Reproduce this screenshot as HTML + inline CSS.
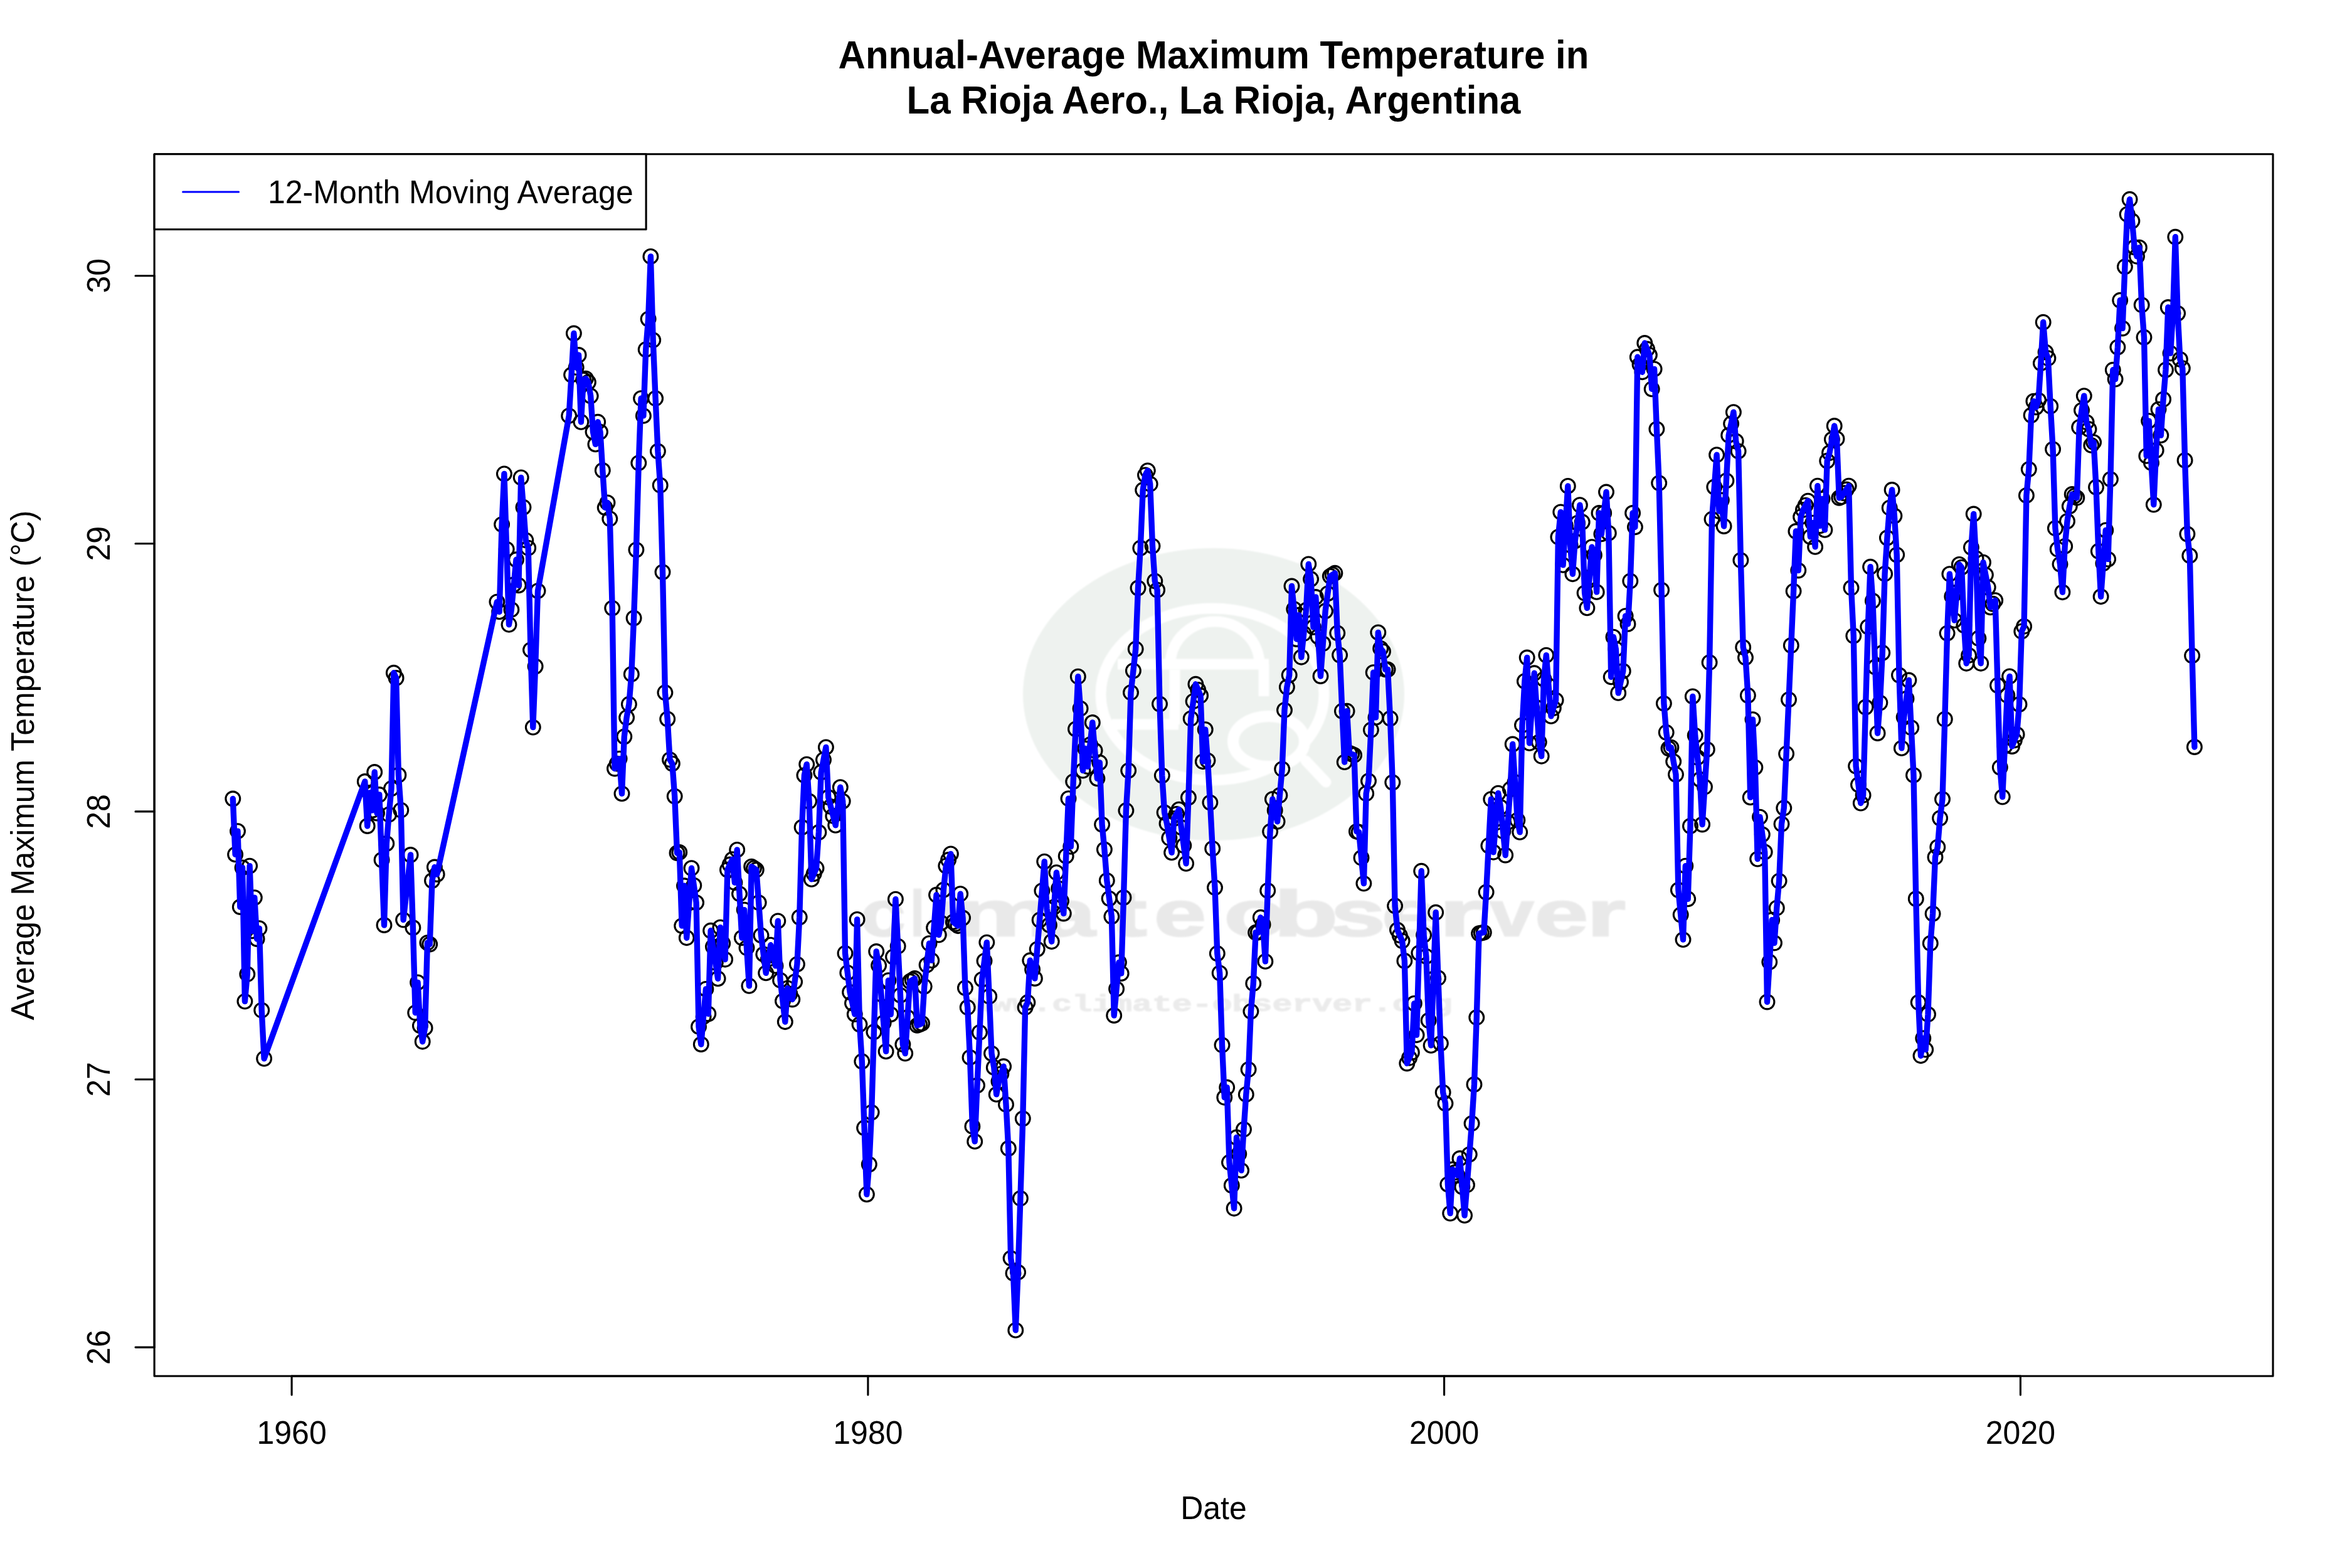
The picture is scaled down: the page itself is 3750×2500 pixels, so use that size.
<!DOCTYPE html>
<html><head><meta charset="utf-8">
<style>
html,body{margin:0;padding:0;background:#fff;overflow:hidden;width:3750px;height:2500px;}
svg{display:block;}
text{font-family:"Liberation Sans",sans-serif;}
</style></head>
<body>
<svg width="3750" height="2500" viewBox="0 0 3750 2500">
<rect x="0" y="0" width="3750" height="2500" fill="#ffffff"/>
<!-- watermark -->
<defs><filter id="soft" x="-5%" y="-5%" width="110%" height="110%"><feGaussianBlur stdDeviation="1.2"/></filter></defs>
<g id="wm" filter="url(#soft)">
<ellipse cx="1935" cy="1107" rx="304" ry="233" fill="#eef2ef"/>
<g fill="none" stroke="#ffffff" stroke-width="17">
<ellipse cx="1933" cy="1107" rx="178" ry="137"/>
<path d="M1866,1059 A71,68 0 0 1 2008,1059"/>
<line x1="1782" y1="1059" x2="2023" y2="1059"/>
<line x1="2015" y1="1059" x2="2015" y2="1110"/>
<line x1="1873" y1="1068" x2="1873" y2="1155"/>
<line x1="1773" y1="1155" x2="1879" y2="1155"/>
</g>
<ellipse cx="2023" cy="1182" rx="57" ry="40" fill="#eef2ef" stroke="#ffffff" stroke-width="18"/>
<line x1="2082" y1="1213" x2="2114" y2="1247" stroke="#ffffff" stroke-width="17" stroke-linecap="round"/>
<g font-weight="bold" font-size="127" fill="#e9e9e9" stroke="#e9e9e9" stroke-width="3" text-anchor="middle" style="font-family:'Liberation Mono',monospace"><text transform="translate(1407.5,1492.4) scale(1.016,0.8)">c</text><text transform="translate(1462.6,1492.4) scale(0.607,0.8)">l</text><text transform="translate(1510.7,1492.4) scale(0.603,0.8)">i</text><text transform="translate(1602.7,1492.4) scale(1.433,0.8)">m</text><text transform="translate(1704.7,1492.4) scale(1.185,0.8)">a</text><text transform="translate(1799.1,1492.4) scale(1.396,0.8)">t</text><text transform="translate(1881.6,1492.4) scale(1.175,0.8)">e</text><text transform="translate(2001.1,1492.4) scale(1.286,0.8)">o</text><text transform="translate(2082.2,1492.4) scale(1.317,0.8)">b</text><text transform="translate(2165.1,1492.4) scale(1.237,0.8)">s</text><text transform="translate(2249.7,1492.4) scale(1.333,0.8)">e</text><text transform="translate(2329.8,1492.4) scale(1.434,0.8)">r</text><text transform="translate(2410.5,1492.4) scale(0.986,0.8)">v</text><text transform="translate(2489.6,1492.4) scale(1.206,0.8)">e</text><text transform="translate(2561.1,1492.4) scale(1.245,0.8)">r</text></g>
<text transform="translate(1932.7,1611.8) scale(1,0.7)" font-weight="bold" font-size="53.2" fill="#ebebeb" stroke="#ebebeb" stroke-width="1.5" text-anchor="middle" textLength="766" lengthAdjust="spacingAndGlyphs" style="font-family:'Liberation Mono',monospace">www.climate-observer.org</text>
</g>
<!-- data -->
<g fill="none" stroke="#000" stroke-width="3.125"><circle cx="371.3" cy="1273.5" r="11.4"/><circle cx="375.1" cy="1362.4" r="11.4"/><circle cx="379.0" cy="1325.1" r="11.4"/><circle cx="382.8" cy="1446.0" r="11.4"/><circle cx="386.6" cy="1383.4" r="11.4"/><circle cx="390.4" cy="1596.6" r="11.4"/><circle cx="394.3" cy="1553.2" r="11.4"/><circle cx="398.1" cy="1380.6" r="11.4"/><circle cx="401.9" cy="1484.4" r="11.4"/><circle cx="405.8" cy="1431.1" r="11.4"/><circle cx="409.6" cy="1497.0" r="11.4"/><circle cx="413.4" cy="1480.2" r="11.4"/><circle cx="417.2" cy="1610.7" r="11.4"/><circle cx="421.1" cy="1687.8" r="11.4"/><circle cx="581.8" cy="1246.0" r="11.4"/><circle cx="585.7" cy="1317.0" r="11.4"/><circle cx="589.5" cy="1264.0" r="11.4"/><circle cx="593.3" cy="1292.0" r="11.4"/><circle cx="597.2" cy="1231.0" r="11.4"/><circle cx="601.0" cy="1296.5" r="11.4"/><circle cx="604.8" cy="1267.0" r="11.4"/><circle cx="608.6" cy="1371.0" r="11.4"/><circle cx="612.5" cy="1475.0" r="11.4"/><circle cx="616.3" cy="1345.0" r="11.4"/><circle cx="620.1" cy="1298.7" r="11.4"/><circle cx="624.0" cy="1257.3" r="11.4"/><circle cx="627.8" cy="1072.8" r="11.4"/><circle cx="631.6" cy="1081.0" r="11.4"/><circle cx="635.4" cy="1235.7" r="11.4"/><circle cx="639.3" cy="1291.7" r="11.4"/><circle cx="643.1" cy="1466.6" r="11.4"/><circle cx="654.6" cy="1363.0" r="11.4"/><circle cx="658.4" cy="1479.0" r="11.4"/><circle cx="662.2" cy="1614.7" r="11.4"/><circle cx="666.1" cy="1566.4" r="11.4"/><circle cx="669.9" cy="1635.4" r="11.4"/><circle cx="673.7" cy="1660.7" r="11.4"/><circle cx="677.6" cy="1638.9" r="11.4"/><circle cx="681.4" cy="1503.2" r="11.4"/><circle cx="685.2" cy="1505.5" r="11.4"/><circle cx="689.0" cy="1404.0" r="11.4"/><circle cx="692.9" cy="1382.5" r="11.4"/><circle cx="696.7" cy="1394.0" r="11.4"/><circle cx="792.4" cy="959.6" r="11.4"/><circle cx="796.2" cy="975.4" r="11.4"/><circle cx="800.1" cy="836.1" r="11.4"/><circle cx="803.9" cy="755.4" r="11.4"/><circle cx="807.7" cy="875.6" r="11.4"/><circle cx="811.5" cy="995.8" r="11.4"/><circle cx="815.4" cy="971.9" r="11.4"/><circle cx="819.2" cy="932.1" r="11.4"/><circle cx="823.0" cy="892.3" r="11.4"/><circle cx="826.9" cy="933.3" r="11.4"/><circle cx="830.7" cy="761.4" r="11.4"/><circle cx="834.5" cy="808.8" r="11.4"/><circle cx="838.3" cy="861.4" r="11.4"/><circle cx="842.2" cy="873.7" r="11.4"/><circle cx="846.0" cy="1036.1" r="11.4"/><circle cx="849.8" cy="1159.6" r="11.4"/><circle cx="853.6" cy="1062.5" r="11.4"/><circle cx="857.5" cy="942.1" r="11.4"/><circle cx="907.2" cy="662.9" r="11.4"/><circle cx="911.1" cy="597.6" r="11.4"/><circle cx="914.9" cy="531.5" r="11.4"/><circle cx="918.7" cy="585.8" r="11.4"/><circle cx="922.6" cy="566.0" r="11.4"/><circle cx="926.4" cy="672.8" r="11.4"/><circle cx="930.2" cy="605.5" r="11.4"/><circle cx="934.0" cy="603.6" r="11.4"/><circle cx="937.9" cy="609.5" r="11.4"/><circle cx="941.7" cy="631.3" r="11.4"/><circle cx="945.5" cy="688.6" r="11.4"/><circle cx="949.4" cy="708.4" r="11.4"/><circle cx="953.2" cy="672.8" r="11.4"/><circle cx="957.0" cy="688.6" r="11.4"/><circle cx="960.8" cy="750.0" r="11.4"/><circle cx="964.7" cy="809.3" r="11.4"/><circle cx="968.5" cy="801.4" r="11.4"/><circle cx="972.3" cy="827.1" r="11.4"/><circle cx="976.2" cy="969.6" r="11.4"/><circle cx="980.0" cy="1225.5" r="11.4"/><circle cx="983.8" cy="1217.6" r="11.4"/><circle cx="987.6" cy="1209.6" r="11.4"/><circle cx="991.5" cy="1265.4" r="11.4"/><circle cx="995.3" cy="1174.5" r="11.4"/><circle cx="999.1" cy="1144.1" r="11.4"/><circle cx="1002.9" cy="1122.8" r="11.4"/><circle cx="1006.8" cy="1074.9" r="11.4"/><circle cx="1010.6" cy="985.5" r="11.4"/><circle cx="1014.4" cy="876.6" r="11.4"/><circle cx="1018.3" cy="738.1" r="11.4"/><circle cx="1022.1" cy="635.2" r="11.4"/><circle cx="1025.9" cy="662.9" r="11.4"/><circle cx="1029.7" cy="557.3" r="11.4"/><circle cx="1033.6" cy="508.6" r="11.4"/><circle cx="1037.4" cy="408.9" r="11.4"/><circle cx="1041.2" cy="542.2" r="11.4"/><circle cx="1045.1" cy="635.2" r="11.4"/><circle cx="1048.9" cy="719.5" r="11.4"/><circle cx="1052.7" cy="773.7" r="11.4"/><circle cx="1056.5" cy="912.1" r="11.4"/><circle cx="1060.4" cy="1104.3" r="11.4"/><circle cx="1064.2" cy="1146.4" r="11.4"/><circle cx="1068.0" cy="1211.2" r="11.4"/><circle cx="1071.9" cy="1217.6" r="11.4"/><circle cx="1075.7" cy="1269.6" r="11.4"/><circle cx="1079.5" cy="1360.0" r="11.4"/><circle cx="1083.3" cy="1358.9" r="11.4"/><circle cx="1087.2" cy="1476.1" r="11.4"/><circle cx="1091.0" cy="1412.3" r="11.4"/><circle cx="1094.8" cy="1495.2" r="11.4"/><circle cx="1098.7" cy="1439.7" r="11.4"/><circle cx="1102.5" cy="1384.2" r="11.4"/><circle cx="1106.3" cy="1411.7" r="11.4"/><circle cx="1110.1" cy="1439.1" r="11.4"/><circle cx="1114.0" cy="1636.9" r="11.4"/><circle cx="1117.8" cy="1665.0" r="11.4"/><circle cx="1121.6" cy="1620.9" r="11.4"/><circle cx="1125.4" cy="1576.9" r="11.4"/><circle cx="1129.3" cy="1616.5" r="11.4"/><circle cx="1133.1" cy="1483.8" r="11.4"/><circle cx="1136.9" cy="1509.3" r="11.4"/><circle cx="1140.8" cy="1534.8" r="11.4"/><circle cx="1144.6" cy="1560.3" r="11.4"/><circle cx="1148.4" cy="1478.7" r="11.4"/><circle cx="1152.2" cy="1504.2" r="11.4"/><circle cx="1156.1" cy="1529.7" r="11.4"/><circle cx="1159.9" cy="1386.8" r="11.4"/><circle cx="1163.7" cy="1378.5" r="11.4"/><circle cx="1167.6" cy="1370.2" r="11.4"/><circle cx="1171.4" cy="1407.2" r="11.4"/><circle cx="1175.2" cy="1354.9" r="11.4"/><circle cx="1179.0" cy="1425.1" r="11.4"/><circle cx="1182.9" cy="1495.2" r="11.4"/><circle cx="1186.7" cy="1450.6" r="11.4"/><circle cx="1190.5" cy="1511.2" r="11.4"/><circle cx="1194.4" cy="1571.8" r="11.4"/><circle cx="1198.2" cy="1381.7" r="11.4"/><circle cx="1202.0" cy="1384.2" r="11.4"/><circle cx="1205.8" cy="1386.8" r="11.4"/><circle cx="1209.7" cy="1439.1" r="11.4"/><circle cx="1213.5" cy="1491.4" r="11.4"/><circle cx="1217.3" cy="1521.4" r="11.4"/><circle cx="1221.2" cy="1551.4" r="11.4"/><circle cx="1225.0" cy="1529.1" r="11.4"/><circle cx="1228.8" cy="1506.7" r="11.4"/><circle cx="1232.6" cy="1523.3" r="11.4"/><circle cx="1236.5" cy="1539.9" r="11.4"/><circle cx="1240.3" cy="1468.4" r="11.4"/><circle cx="1244.1" cy="1562.9" r="11.4"/><circle cx="1248.0" cy="1596.1" r="11.4"/><circle cx="1251.8" cy="1629.2" r="11.4"/><circle cx="1255.6" cy="1575.6" r="11.4"/><circle cx="1259.4" cy="1584.6" r="11.4"/><circle cx="1263.3" cy="1593.5" r="11.4"/><circle cx="1267.1" cy="1565.4" r="11.4"/><circle cx="1270.9" cy="1537.4" r="11.4"/><circle cx="1274.7" cy="1462.5" r="11.4"/><circle cx="1278.6" cy="1319.0" r="11.4"/><circle cx="1282.4" cy="1236.1" r="11.4"/><circle cx="1286.2" cy="1218.6" r="11.4"/><circle cx="1290.1" cy="1277.5" r="11.4"/><circle cx="1293.9" cy="1401.9" r="11.4"/><circle cx="1297.7" cy="1393.1" r="11.4"/><circle cx="1301.5" cy="1384.3" r="11.4"/><circle cx="1305.4" cy="1327.0" r="11.4"/><circle cx="1309.2" cy="1231.3" r="11.4"/><circle cx="1313.0" cy="1211.4" r="11.4"/><circle cx="1316.9" cy="1191.4" r="11.4"/><circle cx="1320.7" cy="1271.2" r="11.4"/><circle cx="1324.5" cy="1286.0" r="11.4"/><circle cx="1328.3" cy="1300.9" r="11.4"/><circle cx="1332.2" cy="1315.8" r="11.4"/><circle cx="1336.0" cy="1285.5" r="11.4"/><circle cx="1339.8" cy="1255.2" r="11.4"/><circle cx="1343.7" cy="1277.5" r="11.4"/><circle cx="1347.5" cy="1519.9" r="11.4"/><circle cx="1351.3" cy="1550.9" r="11.4"/><circle cx="1355.1" cy="1582.0" r="11.4"/><circle cx="1359.0" cy="1599.6" r="11.4"/><circle cx="1362.8" cy="1617.1" r="11.4"/><circle cx="1366.6" cy="1465.9" r="11.4"/><circle cx="1370.5" cy="1633.3" r="11.4"/><circle cx="1374.3" cy="1692.3" r="11.4"/><circle cx="1378.1" cy="1798.3" r="11.4"/><circle cx="1381.9" cy="1904.3" r="11.4"/><circle cx="1385.8" cy="1856.5" r="11.4"/><circle cx="1389.6" cy="1773.6" r="11.4"/><circle cx="1393.4" cy="1645.3" r="11.4"/><circle cx="1397.2" cy="1517.0" r="11.4"/><circle cx="1401.1" cy="1539.3" r="11.4"/><circle cx="1404.9" cy="1585.0" r="11.4"/><circle cx="1408.7" cy="1630.7" r="11.4"/><circle cx="1412.6" cy="1676.4" r="11.4"/><circle cx="1416.4" cy="1563.2" r="11.4"/><circle cx="1420.2" cy="1617.4" r="11.4"/><circle cx="1424.0" cy="1525.6" r="11.4"/><circle cx="1427.9" cy="1433.7" r="11.4"/><circle cx="1431.7" cy="1508.7" r="11.4"/><circle cx="1435.5" cy="1586.9" r="11.4"/><circle cx="1439.4" cy="1665.2" r="11.4"/><circle cx="1443.2" cy="1679.6" r="11.4"/><circle cx="1447.0" cy="1622.2" r="11.4"/><circle cx="1450.8" cy="1564.8" r="11.4"/><circle cx="1454.7" cy="1562.4" r="11.4"/><circle cx="1458.5" cy="1560.0" r="11.4"/><circle cx="1462.3" cy="1634.9" r="11.4"/><circle cx="1466.2" cy="1633.3" r="11.4"/><circle cx="1470.0" cy="1631.7" r="11.4"/><circle cx="1473.8" cy="1572.8" r="11.4"/><circle cx="1477.6" cy="1538.5" r="11.4"/><circle cx="1481.5" cy="1504.2" r="11.4"/><circle cx="1485.3" cy="1531.3" r="11.4"/><circle cx="1489.1" cy="1479.1" r="11.4"/><circle cx="1493.0" cy="1426.8" r="11.4"/><circle cx="1496.8" cy="1490.6" r="11.4"/><circle cx="1500.6" cy="1471.4" r="11.4"/><circle cx="1504.4" cy="1418.8" r="11.4"/><circle cx="1508.3" cy="1380.6" r="11.4"/><circle cx="1512.1" cy="1371.0" r="11.4"/><circle cx="1515.9" cy="1361.4" r="11.4"/><circle cx="1519.8" cy="1469.9" r="11.4"/><circle cx="1523.6" cy="1473.0" r="11.4"/><circle cx="1527.4" cy="1476.2" r="11.4"/><circle cx="1531.2" cy="1425.2" r="11.4"/><circle cx="1535.1" cy="1463.5" r="11.4"/><circle cx="1538.9" cy="1575.1" r="11.4"/><circle cx="1542.7" cy="1606.2" r="11.4"/><circle cx="1546.5" cy="1685.9" r="11.4"/><circle cx="1550.4" cy="1795.9" r="11.4"/><circle cx="1554.2" cy="1819.9" r="11.4"/><circle cx="1558.0" cy="1730.6" r="11.4"/><circle cx="1561.9" cy="1646.1" r="11.4"/><circle cx="1565.7" cy="1561.6" r="11.4"/><circle cx="1569.5" cy="1532.1" r="11.4"/><circle cx="1573.3" cy="1502.6" r="11.4"/><circle cx="1577.2" cy="1588.7" r="11.4"/><circle cx="1581.0" cy="1679.6" r="11.4"/><circle cx="1584.8" cy="1701.9" r="11.4"/><circle cx="1588.7" cy="1744.9" r="11.4"/><circle cx="1592.5" cy="1724.2" r="11.4"/><circle cx="1596.3" cy="1712.2" r="11.4"/><circle cx="1600.1" cy="1700.3" r="11.4"/><circle cx="1604.0" cy="1760.9" r="11.4"/><circle cx="1607.8" cy="1831.0" r="11.4"/><circle cx="1611.6" cy="2006.1" r="11.4"/><circle cx="1615.5" cy="2030.0" r="11.4"/><circle cx="1619.3" cy="2120.9" r="11.4"/><circle cx="1623.1" cy="2028.4" r="11.4"/><circle cx="1626.9" cy="1910.7" r="11.4"/><circle cx="1630.8" cy="1783.5" r="11.4"/><circle cx="1634.6" cy="1606.2" r="11.4"/><circle cx="1638.4" cy="1598.3" r="11.4"/><circle cx="1642.3" cy="1531.3" r="11.4"/><circle cx="1646.1" cy="1545.7" r="11.4"/><circle cx="1649.9" cy="1560.0" r="11.4"/><circle cx="1653.7" cy="1513.4" r="11.4"/><circle cx="1657.6" cy="1466.8" r="11.4"/><circle cx="1661.4" cy="1420.2" r="11.4"/><circle cx="1665.2" cy="1373.6" r="11.4"/><circle cx="1669.0" cy="1448.6" r="11.4"/><circle cx="1672.9" cy="1474.9" r="11.4"/><circle cx="1676.7" cy="1501.2" r="11.4"/><circle cx="1680.5" cy="1446.2" r="11.4"/><circle cx="1684.4" cy="1391.2" r="11.4"/><circle cx="1688.2" cy="1416.7" r="11.4"/><circle cx="1692.0" cy="1436.6" r="11.4"/><circle cx="1695.8" cy="1456.5" r="11.4"/><circle cx="1699.7" cy="1364.9" r="11.4"/><circle cx="1703.5" cy="1273.2" r="11.4"/><circle cx="1707.3" cy="1349.7" r="11.4"/><circle cx="1711.2" cy="1246.1" r="11.4"/><circle cx="1715.0" cy="1162.4" r="11.4"/><circle cx="1718.8" cy="1078.7" r="11.4"/><circle cx="1722.6" cy="1129.7" r="11.4"/><circle cx="1726.5" cy="1228.6" r="11.4"/><circle cx="1730.3" cy="1193.5" r="11.4"/><circle cx="1734.1" cy="1222.2" r="11.4"/><circle cx="1738.0" cy="1187.1" r="11.4"/><circle cx="1741.8" cy="1152.0" r="11.4"/><circle cx="1745.6" cy="1196.7" r="11.4"/><circle cx="1749.4" cy="1241.3" r="11.4"/><circle cx="1753.3" cy="1215.8" r="11.4"/><circle cx="1757.1" cy="1314.6" r="11.4"/><circle cx="1760.9" cy="1354.5" r="11.4"/><circle cx="1764.8" cy="1403.9" r="11.4"/><circle cx="1768.6" cy="1432.6" r="11.4"/><circle cx="1772.4" cy="1461.3" r="11.4"/><circle cx="1776.2" cy="1619.0" r="11.4"/><circle cx="1780.1" cy="1576.7" r="11.4"/><circle cx="1783.9" cy="1534.5" r="11.4"/><circle cx="1787.7" cy="1552.0" r="11.4"/><circle cx="1791.5" cy="1431.0" r="11.4"/><circle cx="1795.4" cy="1292.3" r="11.4"/><circle cx="1799.2" cy="1228.6" r="11.4"/><circle cx="1803.0" cy="1104.2" r="11.4"/><circle cx="1806.9" cy="1069.5" r="11.4"/><circle cx="1810.7" cy="1034.8" r="11.4"/><circle cx="1814.5" cy="937.5" r="11.4"/><circle cx="1818.3" cy="873.8" r="11.4"/><circle cx="1822.2" cy="781.3" r="11.4"/><circle cx="1826.0" cy="757.4" r="11.4"/><circle cx="1829.8" cy="750.4" r="11.4"/><circle cx="1833.7" cy="771.7" r="11.4"/><circle cx="1837.5" cy="870.6" r="11.4"/><circle cx="1841.3" cy="926.4" r="11.4"/><circle cx="1845.1" cy="940.7" r="11.4"/><circle cx="1849.0" cy="1122.5" r="11.4"/><circle cx="1852.8" cy="1236.5" r="11.4"/><circle cx="1856.6" cy="1295.5" r="11.4"/><circle cx="1860.5" cy="1313.0" r="11.4"/><circle cx="1864.3" cy="1336.2" r="11.4"/><circle cx="1868.1" cy="1359.3" r="11.4"/><circle cx="1871.9" cy="1305.1" r="11.4"/><circle cx="1875.8" cy="1297.9" r="11.4"/><circle cx="1879.6" cy="1290.7" r="11.4"/><circle cx="1883.4" cy="1319.4" r="11.4"/><circle cx="1887.3" cy="1348.1" r="11.4"/><circle cx="1891.1" cy="1376.8" r="11.4"/><circle cx="1894.9" cy="1271.6" r="11.4"/><circle cx="1898.7" cy="1145.7" r="11.4"/><circle cx="1902.6" cy="1118.2" r="11.4"/><circle cx="1906.4" cy="1090.8" r="11.4"/><circle cx="1910.2" cy="1099.9" r="11.4"/><circle cx="1914.1" cy="1109.0" r="11.4"/><circle cx="1917.9" cy="1214.2" r="11.4"/><circle cx="1921.7" cy="1163.2" r="11.4"/><circle cx="1925.5" cy="1212.6" r="11.4"/><circle cx="1929.4" cy="1279.6" r="11.4"/><circle cx="1933.2" cy="1352.9" r="11.4"/><circle cx="1937.0" cy="1415.1" r="11.4"/><circle cx="1940.8" cy="1520.3" r="11.4"/><circle cx="1944.7" cy="1551.4" r="11.4"/><circle cx="1948.5" cy="1666.2" r="11.4"/><circle cx="1952.3" cy="1749.7" r="11.4"/><circle cx="1956.2" cy="1733.8" r="11.4"/><circle cx="1960.0" cy="1853.3" r="11.4"/><circle cx="1963.8" cy="1890.0" r="11.4"/><circle cx="1967.6" cy="1926.7" r="11.4"/><circle cx="1971.5" cy="1813.5" r="11.4"/><circle cx="1975.3" cy="1839.8" r="11.4"/><circle cx="1979.1" cy="1866.1" r="11.4"/><circle cx="1983.0" cy="1800.7" r="11.4"/><circle cx="1986.8" cy="1744.9" r="11.4"/><circle cx="1990.6" cy="1705.1" r="11.4"/><circle cx="1994.4" cy="1612.6" r="11.4"/><circle cx="1998.3" cy="1568.0" r="11.4"/><circle cx="2002.1" cy="1486.8" r="11.4"/><circle cx="2005.9" cy="1486.7" r="11.4"/><circle cx="2009.8" cy="1462.8" r="11.4"/><circle cx="2013.6" cy="1473.9" r="11.4"/><circle cx="2017.4" cy="1532.9" r="11.4"/><circle cx="2021.2" cy="1419.9" r="11.4"/><circle cx="2025.1" cy="1325.8" r="11.4"/><circle cx="2028.9" cy="1274.1" r="11.4"/><circle cx="2032.7" cy="1291.9" r="11.4"/><circle cx="2036.6" cy="1309.8" r="11.4"/><circle cx="2040.4" cy="1268.0" r="11.4"/><circle cx="2044.2" cy="1226.2" r="11.4"/><circle cx="2048.0" cy="1132.2" r="11.4"/><circle cx="2051.9" cy="1095.5" r="11.4"/><circle cx="2055.7" cy="1076.4" r="11.4"/><circle cx="2059.5" cy="934.5" r="11.4"/><circle cx="2063.3" cy="971.2" r="11.4"/><circle cx="2067.2" cy="1019.0" r="11.4"/><circle cx="2071.0" cy="980.7" r="11.4"/><circle cx="2074.8" cy="1047.7" r="11.4"/><circle cx="2078.7" cy="1010.2" r="11.4"/><circle cx="2082.5" cy="972.8" r="11.4"/><circle cx="2086.3" cy="899.4" r="11.4"/><circle cx="2090.1" cy="923.3" r="11.4"/><circle cx="2094.0" cy="999.9" r="11.4"/><circle cx="2097.8" cy="952.0" r="11.4"/><circle cx="2101.6" cy="1015.0" r="11.4"/><circle cx="2105.5" cy="1078.0" r="11.4"/><circle cx="2109.3" cy="1026.2" r="11.4"/><circle cx="2113.1" cy="974.3" r="11.4"/><circle cx="2116.9" cy="946.4" r="11.4"/><circle cx="2120.8" cy="918.6" r="11.4"/><circle cx="2124.6" cy="916.2" r="11.4"/><circle cx="2128.4" cy="913.8" r="11.4"/><circle cx="2132.3" cy="1009.4" r="11.4"/><circle cx="2136.1" cy="1044.5" r="11.4"/><circle cx="2139.9" cy="1133.8" r="11.4"/><circle cx="2143.7" cy="1215.1" r="11.4"/><circle cx="2147.6" cy="1133.8" r="11.4"/><circle cx="2151.4" cy="1200.7" r="11.4"/><circle cx="2155.2" cy="1202.3" r="11.4"/><circle cx="2159.1" cy="1203.9" r="11.4"/><circle cx="2162.9" cy="1325.7" r="11.4"/><circle cx="2166.7" cy="1326.7" r="11.4"/><circle cx="2170.5" cy="1367.7" r="11.4"/><circle cx="2174.4" cy="1408.6" r="11.4"/><circle cx="2178.2" cy="1265.2" r="11.4"/><circle cx="2182.0" cy="1245.1" r="11.4"/><circle cx="2185.9" cy="1163.8" r="11.4"/><circle cx="2189.7" cy="1072.2" r="11.4"/><circle cx="2193.5" cy="1143.9" r="11.4"/><circle cx="2197.3" cy="1008.4" r="11.4"/><circle cx="2201.2" cy="1033.9" r="11.4"/><circle cx="2205.0" cy="1038.7" r="11.4"/><circle cx="2208.8" cy="1067.4" r="11.4"/><circle cx="2212.6" cy="1067.4" r="11.4"/><circle cx="2216.5" cy="1145.5" r="11.4"/><circle cx="2220.3" cy="1247.5" r="11.4"/><circle cx="2224.1" cy="1444.3" r="11.4"/><circle cx="2228.0" cy="1482.6" r="11.4"/><circle cx="2231.8" cy="1491.4" r="11.4"/><circle cx="2235.6" cy="1500.1" r="11.4"/><circle cx="2239.4" cy="1532.0" r="11.4"/><circle cx="2243.3" cy="1695.5" r="11.4"/><circle cx="2247.1" cy="1686.7" r="11.4"/><circle cx="2250.9" cy="1678.0" r="11.4"/><circle cx="2254.8" cy="1599.9" r="11.4"/><circle cx="2258.6" cy="1650.2" r="11.4"/><circle cx="2262.4" cy="1519.5" r="11.4"/><circle cx="2266.2" cy="1388.8" r="11.4"/><circle cx="2270.1" cy="1490.8" r="11.4"/><circle cx="2273.9" cy="1524.9" r="11.4"/><circle cx="2277.7" cy="1627.0" r="11.4"/><circle cx="2281.6" cy="1666.8" r="11.4"/><circle cx="2285.4" cy="1560.8" r="11.4"/><circle cx="2289.2" cy="1454.8" r="11.4"/><circle cx="2293.0" cy="1559.2" r="11.4"/><circle cx="2296.9" cy="1663.6" r="11.4"/><circle cx="2300.7" cy="1741.7" r="11.4"/><circle cx="2304.5" cy="1759.3" r="11.4"/><circle cx="2308.4" cy="1888.4" r="11.4"/><circle cx="2312.2" cy="1934.6" r="11.4"/><circle cx="2316.0" cy="1864.5" r="11.4"/><circle cx="2319.8" cy="1869.3" r="11.4"/><circle cx="2323.7" cy="1874.1" r="11.4"/><circle cx="2327.5" cy="1847.0" r="11.4"/><circle cx="2331.3" cy="1892.4" r="11.4"/><circle cx="2335.1" cy="1937.8" r="11.4"/><circle cx="2339.0" cy="1889.2" r="11.4"/><circle cx="2342.8" cy="1840.6" r="11.4"/><circle cx="2346.6" cy="1791.2" r="11.4"/><circle cx="2350.5" cy="1729.0" r="11.4"/><circle cx="2354.3" cy="1622.2" r="11.4"/><circle cx="2358.1" cy="1488.3" r="11.4"/><circle cx="2361.9" cy="1487.5" r="11.4"/><circle cx="2365.8" cy="1486.7" r="11.4"/><circle cx="2369.6" cy="1422.5" r="11.4"/><circle cx="2373.4" cy="1348.3" r="11.4"/><circle cx="2377.3" cy="1274.2" r="11.4"/><circle cx="2381.1" cy="1358.7" r="11.4"/><circle cx="2384.9" cy="1311.7" r="11.4"/><circle cx="2388.7" cy="1264.6" r="11.4"/><circle cx="2392.6" cy="1287.0" r="11.4"/><circle cx="2396.4" cy="1325.2" r="11.4"/><circle cx="2400.2" cy="1363.5" r="11.4"/><circle cx="2404.1" cy="1310.9" r="11.4"/><circle cx="2407.9" cy="1258.3" r="11.4"/><circle cx="2411.7" cy="1186.5" r="11.4"/><circle cx="2415.5" cy="1247.1" r="11.4"/><circle cx="2419.4" cy="1307.7" r="11.4"/><circle cx="2423.2" cy="1326.8" r="11.4"/><circle cx="2427.0" cy="1156.2" r="11.4"/><circle cx="2430.9" cy="1086.1" r="11.4"/><circle cx="2434.7" cy="1048.5" r="11.4"/><circle cx="2438.5" cy="1184.9" r="11.4"/><circle cx="2442.3" cy="1129.1" r="11.4"/><circle cx="2446.2" cy="1073.3" r="11.4"/><circle cx="2450.0" cy="1128.3" r="11.4"/><circle cx="2453.8" cy="1183.3" r="11.4"/><circle cx="2457.7" cy="1205.7" r="11.4"/><circle cx="2461.5" cy="1082.9" r="11.4"/><circle cx="2465.3" cy="1044.6" r="11.4"/><circle cx="2469.1" cy="1093.3" r="11.4"/><circle cx="2473.0" cy="1141.9" r="11.4"/><circle cx="2476.8" cy="1129.1" r="11.4"/><circle cx="2480.6" cy="1116.4" r="11.4"/><circle cx="2484.4" cy="856.2" r="11.4"/><circle cx="2488.3" cy="816.4" r="11.4"/><circle cx="2492.1" cy="900.9" r="11.4"/><circle cx="2495.9" cy="837.9" r="11.4"/><circle cx="2499.8" cy="774.9" r="11.4"/><circle cx="2503.6" cy="869.0" r="11.4"/><circle cx="2507.4" cy="915.2" r="11.4"/><circle cx="2511.2" cy="862.6" r="11.4"/><circle cx="2515.1" cy="833.9" r="11.4"/><circle cx="2518.9" cy="805.2" r="11.4"/><circle cx="2522.7" cy="832.3" r="11.4"/><circle cx="2526.6" cy="945.5" r="11.4"/><circle cx="2530.4" cy="969.4" r="11.4"/><circle cx="2534.2" cy="920.8" r="11.4"/><circle cx="2538.0" cy="872.2" r="11.4"/><circle cx="2541.9" cy="884.9" r="11.4"/><circle cx="2545.7" cy="943.9" r="11.4"/><circle cx="2549.5" cy="818.0" r="11.4"/><circle cx="2553.4" cy="851.4" r="11.4"/><circle cx="2557.2" cy="818.0" r="11.4"/><circle cx="2561.0" cy="784.5" r="11.4"/><circle cx="2564.8" cy="849.9" r="11.4"/><circle cx="2568.7" cy="1079.4" r="11.4"/><circle cx="2572.5" cy="1015.7" r="11.4"/><circle cx="2576.3" cy="1034.8" r="11.4"/><circle cx="2580.2" cy="1104.9" r="11.4"/><circle cx="2584.0" cy="1087.4" r="11.4"/><circle cx="2587.8" cy="1069.9" r="11.4"/><circle cx="2591.6" cy="982.2" r="11.4"/><circle cx="2595.5" cy="994.9" r="11.4"/><circle cx="2599.3" cy="926.4" r="11.4"/><circle cx="2603.1" cy="818.0" r="11.4"/><circle cx="2606.9" cy="840.3" r="11.4"/><circle cx="2610.8" cy="569.3" r="11.4"/><circle cx="2614.6" cy="581.2" r="11.4"/><circle cx="2618.4" cy="593.2" r="11.4"/><circle cx="2622.3" cy="547.0" r="11.4"/><circle cx="2626.1" cy="556.5" r="11.4"/><circle cx="2629.9" cy="566.1" r="11.4"/><circle cx="2633.7" cy="620.3" r="11.4"/><circle cx="2637.6" cy="588.4" r="11.4"/><circle cx="2641.4" cy="684.1" r="11.4"/><circle cx="2645.2" cy="770.1" r="11.4"/><circle cx="2649.1" cy="940.7" r="11.4"/><circle cx="2652.9" cy="1121.6" r="11.4"/><circle cx="2656.7" cy="1167.8" r="11.4"/><circle cx="2660.5" cy="1193.3" r="11.4"/><circle cx="2664.4" cy="1191.7" r="11.4"/><circle cx="2668.2" cy="1214.1" r="11.4"/><circle cx="2672.0" cy="1234.8" r="11.4"/><circle cx="2675.9" cy="1419.0" r="11.4"/><circle cx="2679.7" cy="1458.5" r="11.4"/><circle cx="2683.5" cy="1498.1" r="11.4"/><circle cx="2687.3" cy="1380.7" r="11.4"/><circle cx="2691.2" cy="1433.3" r="11.4"/><circle cx="2695.0" cy="1317.0" r="11.4"/><circle cx="2698.8" cy="1110.4" r="11.4"/><circle cx="2702.7" cy="1172.6" r="11.4"/><circle cx="2706.5" cy="1207.7" r="11.4"/><circle cx="2710.3" cy="1242.8" r="11.4"/><circle cx="2714.1" cy="1314.5" r="11.4"/><circle cx="2718.0" cy="1254.7" r="11.4"/><circle cx="2721.8" cy="1194.9" r="11.4"/><circle cx="2725.6" cy="1056.2" r="11.4"/><circle cx="2729.5" cy="827.8" r="11.4"/><circle cx="2733.3" cy="776.5" r="11.4"/><circle cx="2737.1" cy="725.2" r="11.4"/><circle cx="2740.9" cy="815.1" r="11.4"/><circle cx="2744.8" cy="797.5" r="11.4"/><circle cx="2748.6" cy="839.0" r="11.4"/><circle cx="2752.4" cy="766.4" r="11.4"/><circle cx="2756.2" cy="693.9" r="11.4"/><circle cx="2760.1" cy="675.6" r="11.4"/><circle cx="2763.9" cy="657.2" r="11.4"/><circle cx="2767.7" cy="703.5" r="11.4"/><circle cx="2771.6" cy="719.4" r="11.4"/><circle cx="2775.4" cy="893.2" r="11.4"/><circle cx="2779.2" cy="1031.9" r="11.4"/><circle cx="2783.0" cy="1048.3" r="11.4"/><circle cx="2786.9" cy="1108.8" r="11.4"/><circle cx="2790.7" cy="1271.4" r="11.4"/><circle cx="2794.5" cy="1147.1" r="11.4"/><circle cx="2798.4" cy="1223.6" r="11.4"/><circle cx="2802.2" cy="1369.6" r="11.4"/><circle cx="2806.0" cy="1302.6" r="11.4"/><circle cx="2809.8" cy="1330.5" r="11.4"/><circle cx="2813.7" cy="1358.4" r="11.4"/><circle cx="2817.5" cy="1597.5" r="11.4"/><circle cx="2821.3" cy="1533.8" r="11.4"/><circle cx="2825.2" cy="1466.8" r="11.4"/><circle cx="2829.0" cy="1503.5" r="11.4"/><circle cx="2832.8" cy="1447.7" r="11.4"/><circle cx="2836.6" cy="1404.6" r="11.4"/><circle cx="2840.5" cy="1313.8" r="11.4"/><circle cx="2844.3" cy="1288.3" r="11.4"/><circle cx="2848.1" cy="1201.8" r="11.4"/><circle cx="2852.0" cy="1115.4" r="11.4"/><circle cx="2855.8" cy="1029.0" r="11.4"/><circle cx="2859.6" cy="942.6" r="11.4"/><circle cx="2863.4" cy="847.0" r="11.4"/><circle cx="2867.3" cy="909.5" r="11.4"/><circle cx="2871.1" cy="824.1" r="11.4"/><circle cx="2874.9" cy="812.9" r="11.4"/><circle cx="2878.7" cy="805.7" r="11.4"/><circle cx="2882.6" cy="798.6" r="11.4"/><circle cx="2886.4" cy="855.9" r="11.4"/><circle cx="2890.2" cy="833.6" r="11.4"/><circle cx="2894.1" cy="871.9" r="11.4"/><circle cx="2897.9" cy="774.6" r="11.4"/><circle cx="2901.7" cy="838.4" r="11.4"/><circle cx="2905.5" cy="795.4" r="11.4"/><circle cx="2909.4" cy="844.8" r="11.4"/><circle cx="2913.2" cy="734.8" r="11.4"/><circle cx="2917.0" cy="722.0" r="11.4"/><circle cx="2920.9" cy="700.5" r="11.4"/><circle cx="2924.7" cy="679.0" r="11.4"/><circle cx="2928.5" cy="699.7" r="11.4"/><circle cx="2932.3" cy="793.8" r="11.4"/><circle cx="2936.2" cy="792.2" r="11.4"/><circle cx="2940.0" cy="786.3" r="11.4"/><circle cx="2943.8" cy="780.5" r="11.4"/><circle cx="2947.7" cy="774.6" r="11.4"/><circle cx="2951.5" cy="937.2" r="11.4"/><circle cx="2955.3" cy="1013.8" r="11.4"/><circle cx="2959.1" cy="1221.6" r="11.4"/><circle cx="2963.0" cy="1251.1" r="11.4"/><circle cx="2966.8" cy="1280.6" r="11.4"/><circle cx="2970.6" cy="1267.8" r="11.4"/><circle cx="2974.5" cy="1127.5" r="11.4"/><circle cx="2978.3" cy="999.4" r="11.4"/><circle cx="2982.1" cy="903.8" r="11.4"/><circle cx="2985.9" cy="958.0" r="11.4"/><circle cx="2989.8" cy="1063.5" r="11.4"/><circle cx="2993.6" cy="1169.0" r="11.4"/><circle cx="2997.4" cy="1120.5" r="11.4"/><circle cx="3001.3" cy="1040.8" r="11.4"/><circle cx="3005.1" cy="914.9" r="11.4"/><circle cx="3008.9" cy="857.5" r="11.4"/><circle cx="3012.7" cy="809.7" r="11.4"/><circle cx="3016.6" cy="781.0" r="11.4"/><circle cx="3020.4" cy="822.5" r="11.4"/><circle cx="3024.2" cy="884.6" r="11.4"/><circle cx="3028.0" cy="1076.5" r="11.4"/><circle cx="3031.9" cy="1192.9" r="11.4"/><circle cx="3035.7" cy="1143.5" r="11.4"/><circle cx="3039.5" cy="1114.0" r="11.4"/><circle cx="3043.4" cy="1084.5" r="11.4"/><circle cx="3047.2" cy="1160.2" r="11.4"/><circle cx="3051.0" cy="1235.9" r="11.4"/><circle cx="3054.8" cy="1433.0" r="11.4"/><circle cx="3058.7" cy="1598.1" r="11.4"/><circle cx="3062.5" cy="1683.2" r="11.4"/><circle cx="3066.3" cy="1655.4" r="11.4"/><circle cx="3070.2" cy="1673.6" r="11.4"/><circle cx="3074.0" cy="1617.2" r="11.4"/><circle cx="3077.8" cy="1504.0" r="11.4"/><circle cx="3081.6" cy="1456.8" r="11.4"/><circle cx="3085.5" cy="1366.7" r="11.4"/><circle cx="3089.3" cy="1350.7" r="11.4"/><circle cx="3093.1" cy="1304.5" r="11.4"/><circle cx="3097.0" cy="1274.2" r="11.4"/><circle cx="3100.8" cy="1146.7" r="11.4"/><circle cx="3104.6" cy="1009.6" r="11.4"/><circle cx="3108.4" cy="915.2" r="11.4"/><circle cx="3112.3" cy="950.9" r="11.4"/><circle cx="3116.1" cy="989.1" r="11.4"/><circle cx="3119.9" cy="944.5" r="11.4"/><circle cx="3123.8" cy="899.9" r="11.4"/><circle cx="3127.6" cy="904.6" r="11.4"/><circle cx="3131.4" cy="997.1" r="11.4"/><circle cx="3135.2" cy="1057.7" r="11.4"/><circle cx="3139.1" cy="1044.9" r="11.4"/><circle cx="3142.9" cy="872.8" r="11.4"/><circle cx="3146.7" cy="819.5" r="11.4"/><circle cx="3150.5" cy="890.3" r="11.4"/><circle cx="3154.4" cy="1017.8" r="11.4"/><circle cx="3158.2" cy="1057.7" r="11.4"/><circle cx="3162.0" cy="896.7" r="11.4"/><circle cx="3165.9" cy="916.6" r="11.4"/><circle cx="3169.7" cy="936.5" r="11.4"/><circle cx="3173.5" cy="968.4" r="11.4"/><circle cx="3177.3" cy="962.8" r="11.4"/><circle cx="3181.2" cy="957.2" r="11.4"/><circle cx="3185.0" cy="1092.8" r="11.4"/><circle cx="3188.8" cy="1223.5" r="11.4"/><circle cx="3192.7" cy="1270.6" r="11.4"/><circle cx="3196.5" cy="1189.6" r="11.4"/><circle cx="3200.3" cy="1108.7" r="11.4"/><circle cx="3204.1" cy="1078.4" r="11.4"/><circle cx="3208.0" cy="1190.0" r="11.4"/><circle cx="3211.8" cy="1180.4" r="11.4"/><circle cx="3215.6" cy="1170.9" r="11.4"/><circle cx="3219.5" cy="1123.0" r="11.4"/><circle cx="3223.3" cy="1006.7" r="11.4"/><circle cx="3227.1" cy="998.7" r="11.4"/><circle cx="3230.9" cy="789.9" r="11.4"/><circle cx="3234.8" cy="748.1" r="11.4"/><circle cx="3238.6" cy="662.0" r="11.4"/><circle cx="3242.4" cy="639.7" r="11.4"/><circle cx="3246.3" cy="649.3" r="11.4"/><circle cx="3250.1" cy="638.1" r="11.4"/><circle cx="3253.9" cy="579.1" r="11.4"/><circle cx="3257.7" cy="513.8" r="11.4"/><circle cx="3261.6" cy="561.6" r="11.4"/><circle cx="3265.4" cy="571.2" r="11.4"/><circle cx="3269.2" cy="647.7" r="11.4"/><circle cx="3273.1" cy="716.2" r="11.4"/><circle cx="3276.9" cy="842.2" r="11.4"/><circle cx="3280.7" cy="875.7" r="11.4"/><circle cx="3284.5" cy="899.6" r="11.4"/><circle cx="3288.4" cy="944.2" r="11.4"/><circle cx="3292.2" cy="870.9" r="11.4"/><circle cx="3296.0" cy="831.0" r="11.4"/><circle cx="3299.8" cy="807.1" r="11.4"/><circle cx="3303.7" cy="788.0" r="11.4"/><circle cx="3307.5" cy="790.8" r="11.4"/><circle cx="3311.3" cy="793.7" r="11.4"/><circle cx="3315.2" cy="681.2" r="11.4"/><circle cx="3319.0" cy="654.1" r="11.4"/><circle cx="3322.8" cy="631.1" r="11.4"/><circle cx="3326.6" cy="673.2" r="11.4"/><circle cx="3330.5" cy="684.3" r="11.4"/><circle cx="3334.3" cy="709.9" r="11.4"/><circle cx="3338.1" cy="705.1" r="11.4"/><circle cx="3342.0" cy="776.8" r="11.4"/><circle cx="3345.8" cy="878.8" r="11.4"/><circle cx="3349.6" cy="951.2" r="11.4"/><circle cx="3353.4" cy="898.3" r="11.4"/><circle cx="3357.3" cy="845.4" r="11.4"/><circle cx="3361.1" cy="891.6" r="11.4"/><circle cx="3364.9" cy="764.1" r="11.4"/><circle cx="3368.8" cy="589.8" r="11.4"/><circle cx="3372.6" cy="604.6" r="11.4"/><circle cx="3376.4" cy="553.6" r="11.4"/><circle cx="3380.2" cy="478.8" r="11.4"/><circle cx="3384.1" cy="523.5" r="11.4"/><circle cx="3387.9" cy="425.3" r="11.4"/><circle cx="3391.7" cy="341.7" r="11.4"/><circle cx="3395.6" cy="317.8" r="11.4"/><circle cx="3399.4" cy="352.3" r="11.4"/><circle cx="3403.2" cy="394.3" r="11.4"/><circle cx="3407.0" cy="408.7" r="11.4"/><circle cx="3410.9" cy="394.7" r="11.4"/><circle cx="3414.7" cy="486.2" r="11.4"/><circle cx="3418.5" cy="537.8" r="11.4"/><circle cx="3422.3" cy="726.9" r="11.4"/><circle cx="3426.2" cy="671.1" r="11.4"/><circle cx="3430.0" cy="737.9" r="11.4"/><circle cx="3433.8" cy="804.6" r="11.4"/><circle cx="3437.7" cy="718.0" r="11.4"/><circle cx="3441.5" cy="652.6" r="11.4"/><circle cx="3445.3" cy="694.1" r="11.4"/><circle cx="3449.1" cy="636.7" r="11.4"/><circle cx="3453.0" cy="589.8" r="11.4"/><circle cx="3456.8" cy="490.0" r="11.4"/><circle cx="3460.6" cy="563.3" r="11.4"/><circle cx="3464.5" cy="499.6" r="11.4"/><circle cx="3468.3" cy="377.8" r="11.4"/><circle cx="3472.1" cy="499.6" r="11.4"/><circle cx="3475.9" cy="572.9" r="11.4"/><circle cx="3479.8" cy="587.2" r="11.4"/><circle cx="3483.6" cy="733.9" r="11.4"/><circle cx="3487.4" cy="851.5" r="11.4"/><circle cx="3491.3" cy="885.9" r="11.4"/><circle cx="3495.1" cy="1045.4" r="11.4"/><circle cx="3498.9" cy="1191.0" r="11.4"/></g>
<polyline fill="none" stroke="#0000ff" stroke-width="9.375" stroke-linejoin="round" stroke-linecap="round" points="371.3,1273.5 375.1,1362.4 379.0,1325.1 382.8,1446.0 386.6,1383.4 390.4,1596.6 394.3,1553.2 398.1,1380.6 401.9,1484.4 405.8,1431.1 409.6,1497.0 413.4,1480.2 417.2,1610.7 421.1,1687.8 581.8,1246.0 585.7,1317.0 589.5,1264.0 593.3,1292.0 597.2,1231.0 601.0,1296.5 604.8,1267.0 608.6,1371.0 612.5,1475.0 616.3,1345.0 620.1,1298.7 624.0,1257.3 627.8,1072.8 631.6,1081.0 635.4,1235.7 639.3,1291.7 643.1,1466.6 654.6,1363.0 658.4,1479.0 662.2,1614.7 666.1,1566.4 669.9,1635.4 673.7,1660.7 677.6,1638.9 681.4,1503.2 685.2,1505.5 689.0,1404.0 692.9,1382.5 696.7,1394.0 792.4,959.6 796.2,975.4 800.1,836.1 803.9,755.4 807.7,875.6 811.5,995.8 815.4,971.9 819.2,932.1 823.0,892.3 826.9,933.3 830.7,761.4 834.5,808.8 838.3,861.4 842.2,873.7 846.0,1036.1 849.8,1159.6 853.6,1062.5 857.5,942.1 907.2,662.9 911.1,597.6 914.9,531.5 918.7,585.8 922.6,566.0 926.4,672.8 930.2,605.5 934.0,603.6 937.9,609.5 941.7,631.3 945.5,688.6 949.4,708.4 953.2,672.8 957.0,688.6 960.8,750.0 964.7,809.3 968.5,801.4 972.3,827.1 976.2,969.6 980.0,1225.5 983.8,1217.6 987.6,1209.6 991.5,1265.4 995.3,1174.5 999.1,1144.1 1002.9,1122.8 1006.8,1074.9 1010.6,985.5 1014.4,876.6 1018.3,738.1 1022.1,635.2 1025.9,662.9 1029.7,557.3 1033.6,508.6 1037.4,408.9 1041.2,542.2 1045.1,635.2 1048.9,719.5 1052.7,773.7 1056.5,912.1 1060.4,1104.3 1064.2,1146.4 1068.0,1211.2 1071.9,1217.6 1075.7,1269.6 1079.5,1360.0 1083.3,1358.9 1087.2,1476.1 1091.0,1412.3 1094.8,1495.2 1098.7,1439.7 1102.5,1384.2 1106.3,1411.7 1110.1,1439.1 1114.0,1636.9 1117.8,1665.0 1121.6,1620.9 1125.4,1576.9 1129.3,1616.5 1133.1,1483.8 1136.9,1509.3 1140.8,1534.8 1144.6,1560.3 1148.4,1478.7 1152.2,1504.2 1156.1,1529.7 1159.9,1386.8 1163.7,1378.5 1167.6,1370.2 1171.4,1407.2 1175.2,1354.9 1179.0,1425.1 1182.9,1495.2 1186.7,1450.6 1190.5,1511.2 1194.4,1571.8 1198.2,1381.7 1202.0,1384.2 1205.8,1386.8 1209.7,1439.1 1213.5,1491.4 1217.3,1521.4 1221.2,1551.4 1225.0,1529.1 1228.8,1506.7 1232.6,1523.3 1236.5,1539.9 1240.3,1468.4 1244.1,1562.9 1248.0,1596.1 1251.8,1629.2 1255.6,1575.6 1259.4,1584.6 1263.3,1593.5 1267.1,1565.4 1270.9,1537.4 1274.7,1462.5 1278.6,1319.0 1282.4,1236.1 1286.2,1218.6 1290.1,1277.5 1293.9,1401.9 1297.7,1393.1 1301.5,1384.3 1305.4,1327.0 1309.2,1231.3 1313.0,1211.4 1316.9,1191.4 1320.7,1271.2 1324.5,1286.0 1328.3,1300.9 1332.2,1315.8 1336.0,1285.5 1339.8,1255.2 1343.7,1277.5 1347.5,1519.9 1351.3,1550.9 1355.1,1582.0 1359.0,1599.6 1362.8,1617.1 1366.6,1465.9 1370.5,1633.3 1374.3,1692.3 1378.1,1798.3 1381.9,1904.3 1385.8,1856.5 1389.6,1773.6 1393.4,1645.3 1397.2,1517.0 1401.1,1539.3 1404.9,1585.0 1408.7,1630.7 1412.6,1676.4 1416.4,1563.2 1420.2,1617.4 1424.0,1525.6 1427.9,1433.7 1431.7,1508.7 1435.5,1586.9 1439.4,1665.2 1443.2,1679.6 1447.0,1622.2 1450.8,1564.8 1454.7,1562.4 1458.5,1560.0 1462.3,1634.9 1466.2,1633.3 1470.0,1631.7 1473.8,1572.8 1477.6,1538.5 1481.5,1504.2 1485.3,1531.3 1489.1,1479.1 1493.0,1426.8 1496.8,1490.6 1500.6,1471.4 1504.4,1418.8 1508.3,1380.6 1512.1,1371.0 1515.9,1361.4 1519.8,1469.9 1523.6,1473.0 1527.4,1476.2 1531.2,1425.2 1535.1,1463.5 1538.9,1575.1 1542.7,1606.2 1546.5,1685.9 1550.4,1795.9 1554.2,1819.9 1558.0,1730.6 1561.9,1646.1 1565.7,1561.6 1569.5,1532.1 1573.3,1502.6 1577.2,1588.7 1581.0,1679.6 1584.8,1701.9 1588.7,1744.9 1592.5,1724.2 1596.3,1712.2 1600.1,1700.3 1604.0,1760.9 1607.8,1831.0 1611.6,2006.1 1615.5,2030.0 1619.3,2120.9 1623.1,2028.4 1626.9,1910.7 1630.8,1783.5 1634.6,1606.2 1638.4,1598.3 1642.3,1531.3 1646.1,1545.7 1649.9,1560.0 1653.7,1513.4 1657.6,1466.8 1661.4,1420.2 1665.2,1373.6 1669.0,1448.6 1672.9,1474.9 1676.7,1501.2 1680.5,1446.2 1684.4,1391.2 1688.2,1416.7 1692.0,1436.6 1695.8,1456.5 1699.7,1364.9 1703.5,1273.2 1707.3,1349.7 1711.2,1246.1 1715.0,1162.4 1718.8,1078.7 1722.6,1129.7 1726.5,1228.6 1730.3,1193.5 1734.1,1222.2 1738.0,1187.1 1741.8,1152.0 1745.6,1196.7 1749.4,1241.3 1753.3,1215.8 1757.1,1314.6 1760.9,1354.5 1764.8,1403.9 1768.6,1432.6 1772.4,1461.3 1776.2,1619.0 1780.1,1576.7 1783.9,1534.5 1787.7,1552.0 1791.5,1431.0 1795.4,1292.3 1799.2,1228.6 1803.0,1104.2 1806.9,1069.5 1810.7,1034.8 1814.5,937.5 1818.3,873.8 1822.2,781.3 1826.0,757.4 1829.8,750.4 1833.7,771.7 1837.5,870.6 1841.3,926.4 1845.1,940.7 1849.0,1122.5 1852.8,1236.5 1856.6,1295.5 1860.5,1313.0 1864.3,1336.2 1868.1,1359.3 1871.9,1305.1 1875.8,1297.9 1879.6,1290.7 1883.4,1319.4 1887.3,1348.1 1891.1,1376.8 1894.9,1271.6 1898.7,1145.7 1902.6,1118.2 1906.4,1090.8 1910.2,1099.9 1914.1,1109.0 1917.9,1214.2 1921.7,1163.2 1925.5,1212.6 1929.4,1279.6 1933.2,1352.9 1937.0,1415.1 1940.8,1520.3 1944.7,1551.4 1948.5,1666.2 1952.3,1749.7 1956.2,1733.8 1960.0,1853.3 1963.8,1890.0 1967.6,1926.7 1971.5,1813.5 1975.3,1839.8 1979.1,1866.1 1983.0,1800.7 1986.8,1744.9 1990.6,1705.1 1994.4,1612.6 1998.3,1568.0 2002.1,1486.8 2005.9,1486.7 2009.8,1462.8 2013.6,1473.9 2017.4,1532.9 2021.2,1419.9 2025.1,1325.8 2028.9,1274.1 2032.7,1291.9 2036.6,1309.8 2040.4,1268.0 2044.2,1226.2 2048.0,1132.2 2051.9,1095.5 2055.7,1076.4 2059.5,934.5 2063.3,971.2 2067.2,1019.0 2071.0,980.7 2074.8,1047.7 2078.7,1010.2 2082.5,972.8 2086.3,899.4 2090.1,923.3 2094.0,999.9 2097.8,952.0 2101.6,1015.0 2105.5,1078.0 2109.3,1026.2 2113.1,974.3 2116.9,946.4 2120.8,918.6 2124.6,916.2 2128.4,913.8 2132.3,1009.4 2136.1,1044.5 2139.9,1133.8 2143.7,1215.1 2147.6,1133.8 2151.4,1200.7 2155.2,1202.3 2159.1,1203.9 2162.9,1325.7 2166.7,1326.7 2170.5,1367.7 2174.4,1408.6 2178.2,1265.2 2182.0,1245.1 2185.9,1163.8 2189.7,1072.2 2193.5,1143.9 2197.3,1008.4 2201.2,1033.9 2205.0,1038.7 2208.8,1067.4 2212.6,1067.4 2216.5,1145.5 2220.3,1247.5 2224.1,1444.3 2228.0,1482.6 2231.8,1491.4 2235.6,1500.1 2239.4,1532.0 2243.3,1695.5 2247.1,1686.7 2250.9,1678.0 2254.8,1599.9 2258.6,1650.2 2262.4,1519.5 2266.2,1388.8 2270.1,1490.8 2273.9,1524.9 2277.7,1627.0 2281.6,1666.8 2285.4,1560.8 2289.2,1454.8 2293.0,1559.2 2296.9,1663.6 2300.7,1741.7 2304.5,1759.3 2308.4,1888.4 2312.2,1934.6 2316.0,1864.5 2319.8,1869.3 2323.7,1874.1 2327.5,1847.0 2331.3,1892.4 2335.1,1937.8 2339.0,1889.2 2342.8,1840.6 2346.6,1791.2 2350.5,1729.0 2354.3,1622.2 2358.1,1488.3 2361.9,1487.5 2365.8,1486.7 2369.6,1422.5 2373.4,1348.3 2377.3,1274.2 2381.1,1358.7 2384.9,1311.7 2388.7,1264.6 2392.6,1287.0 2396.4,1325.2 2400.2,1363.5 2404.1,1310.9 2407.9,1258.3 2411.7,1186.5 2415.5,1247.1 2419.4,1307.7 2423.2,1326.8 2427.0,1156.2 2430.9,1086.1 2434.7,1048.5 2438.5,1184.9 2442.3,1129.1 2446.2,1073.3 2450.0,1128.3 2453.8,1183.3 2457.7,1205.7 2461.5,1082.9 2465.3,1044.6 2469.1,1093.3 2473.0,1141.9 2476.8,1129.1 2480.6,1116.4 2484.4,856.2 2488.3,816.4 2492.1,900.9 2495.9,837.9 2499.8,774.9 2503.6,869.0 2507.4,915.2 2511.2,862.6 2515.1,833.9 2518.9,805.2 2522.7,832.3 2526.6,945.5 2530.4,969.4 2534.2,920.8 2538.0,872.2 2541.9,884.9 2545.7,943.9 2549.5,818.0 2553.4,851.4 2557.2,818.0 2561.0,784.5 2564.8,849.9 2568.7,1079.4 2572.5,1015.7 2576.3,1034.8 2580.2,1104.9 2584.0,1087.4 2587.8,1069.9 2591.6,982.2 2595.5,994.9 2599.3,926.4 2603.1,818.0 2606.9,840.3 2610.8,569.3 2614.6,581.2 2618.4,593.2 2622.3,547.0 2626.1,556.5 2629.9,566.1 2633.7,620.3 2637.6,588.4 2641.4,684.1 2645.2,770.1 2649.1,940.7 2652.9,1121.6 2656.7,1167.8 2660.5,1193.3 2664.4,1191.7 2668.2,1214.1 2672.0,1234.8 2675.9,1419.0 2679.7,1458.5 2683.5,1498.1 2687.3,1380.7 2691.2,1433.3 2695.0,1317.0 2698.8,1110.4 2702.7,1172.6 2706.5,1207.7 2710.3,1242.8 2714.1,1314.5 2718.0,1254.7 2721.8,1194.9 2725.6,1056.2 2729.5,827.8 2733.3,776.5 2737.1,725.2 2740.9,815.1 2744.8,797.5 2748.6,839.0 2752.4,766.4 2756.2,693.9 2760.1,675.6 2763.9,657.2 2767.7,703.5 2771.6,719.4 2775.4,893.2 2779.2,1031.9 2783.0,1048.3 2786.9,1108.8 2790.7,1271.4 2794.5,1147.1 2798.4,1223.6 2802.2,1369.6 2806.0,1302.6 2809.8,1330.5 2813.7,1358.4 2817.5,1597.5 2821.3,1533.8 2825.2,1466.8 2829.0,1503.5 2832.8,1447.7 2836.6,1404.6 2840.5,1313.8 2844.3,1288.3 2848.1,1201.8 2852.0,1115.4 2855.8,1029.0 2859.6,942.6 2863.4,847.0 2867.3,909.5 2871.1,824.1 2874.9,812.9 2878.7,805.7 2882.6,798.6 2886.4,855.9 2890.2,833.6 2894.1,871.9 2897.9,774.6 2901.7,838.4 2905.5,795.4 2909.4,844.8 2913.2,734.8 2917.0,722.0 2920.9,700.5 2924.7,679.0 2928.5,699.7 2932.3,793.8 2936.2,792.2 2940.0,786.3 2943.8,780.5 2947.7,774.6 2951.5,937.2 2955.3,1013.8 2959.1,1221.6 2963.0,1251.1 2966.8,1280.6 2970.6,1267.8 2974.5,1127.5 2978.3,999.4 2982.1,903.8 2985.9,958.0 2989.8,1063.5 2993.6,1169.0 2997.4,1120.5 3001.3,1040.8 3005.1,914.9 3008.9,857.5 3012.7,809.7 3016.6,781.0 3020.4,822.5 3024.2,884.6 3028.0,1076.5 3031.9,1192.9 3035.7,1143.5 3039.5,1114.0 3043.4,1084.5 3047.2,1160.2 3051.0,1235.9 3054.8,1433.0 3058.7,1598.1 3062.5,1683.2 3066.3,1655.4 3070.2,1673.6 3074.0,1617.2 3077.8,1504.0 3081.6,1456.8 3085.5,1366.7 3089.3,1350.7 3093.1,1304.5 3097.0,1274.2 3100.8,1146.7 3104.6,1009.6 3108.4,915.2 3112.3,950.9 3116.1,989.1 3119.9,944.5 3123.8,899.9 3127.6,904.6 3131.4,997.1 3135.2,1057.7 3139.1,1044.9 3142.9,872.8 3146.7,819.5 3150.5,890.3 3154.4,1017.8 3158.2,1057.7 3162.0,896.7 3165.9,916.6 3169.7,936.5 3173.5,968.4 3177.3,962.8 3181.2,957.2 3185.0,1092.8 3188.8,1223.5 3192.7,1270.6 3196.5,1189.6 3200.3,1108.7 3204.1,1078.4 3208.0,1190.0 3211.8,1180.4 3215.6,1170.9 3219.5,1123.0 3223.3,1006.7 3227.1,998.7 3230.9,789.9 3234.8,748.1 3238.6,662.0 3242.4,639.7 3246.3,649.3 3250.1,638.1 3253.9,579.1 3257.7,513.8 3261.6,561.6 3265.4,571.2 3269.2,647.7 3273.1,716.2 3276.9,842.2 3280.7,875.7 3284.5,899.6 3288.4,944.2 3292.2,870.9 3296.0,831.0 3299.8,807.1 3303.7,788.0 3307.5,790.8 3311.3,793.7 3315.2,681.2 3319.0,654.1 3322.8,631.1 3326.6,673.2 3330.5,684.3 3334.3,709.9 3338.1,705.1 3342.0,776.8 3345.8,878.8 3349.6,951.2 3353.4,898.3 3357.3,845.4 3361.1,891.6 3364.9,764.1 3368.8,589.8 3372.6,604.6 3376.4,553.6 3380.2,478.8 3384.1,523.5 3387.9,425.3 3391.7,341.7 3395.6,317.8 3399.4,352.3 3403.2,394.3 3407.0,408.7 3410.9,394.7 3414.7,486.2 3418.5,537.8 3422.3,726.9 3426.2,671.1 3430.0,737.9 3433.8,804.6 3437.7,718.0 3441.5,652.6 3445.3,694.1 3449.1,636.7 3453.0,589.8 3456.8,490.0 3460.6,563.3 3464.5,499.6 3468.3,377.8 3472.1,499.6 3475.9,572.9 3479.8,587.2 3483.6,733.9 3487.4,851.5 3491.3,885.9 3495.1,1045.4 3498.9,1191.0"/>
<!-- box -->
<rect x="246.1" y="245.7" width="3377.9" height="1948.3" fill="none" stroke="#000" stroke-width="3.125" stroke-linejoin="round"/>
<!-- legend -->
<rect x="246.1" y="245.7" width="784" height="120" fill="#fff" stroke="#000" stroke-width="3.125" stroke-linejoin="round"/>
<line x1="291.6" y1="306" x2="380.5" y2="306" stroke="#0000ff" stroke-width="3.125" stroke-linecap="round"/>
<text transform="translate(427,324.3) scale(1,1.02)" font-size="50" fill="#000">12-Month Moving Average</text>
<!-- axes ticks -->
<g stroke="#000" stroke-width="3.125" stroke-linecap="round">
<line x1="465.1" y1="2194" x2="465.1" y2="2224"/>
<line x1="1383.9" y1="2194" x2="1383.9" y2="2224"/>
<line x1="2302.6" y1="2194" x2="2302.6" y2="2224"/>
<line x1="3221.4" y1="2194" x2="3221.4" y2="2224"/>
<line x1="465.1" y1="2194" x2="3221.4" y2="2194"/>
<line x1="246.1" y1="439.7" x2="216" y2="439.7"/>
<line x1="246.1" y1="866.8" x2="216" y2="866.8"/>
<line x1="246.1" y1="1293.9" x2="216" y2="1293.9"/>
<line x1="246.1" y1="1721.0" x2="216" y2="1721.0"/>
<line x1="246.1" y1="2148.1" x2="216" y2="2148.1"/>
<line x1="246.1" y1="439.7" x2="246.1" y2="2148.1"/>
</g>
<g font-size="50" fill="#000" text-anchor="middle">
<text transform="translate(465.1,2302) scale(1,1.02)">1960</text>
<text transform="translate(1383.9,2302) scale(1,1.02)">1980</text>
<text transform="translate(2302.6,2302) scale(1,1.02)">2000</text>
<text transform="translate(3221.4,2302) scale(1,1.02)">2020</text>
<text transform="translate(175,439.7) rotate(-90) scale(1,1.02)">30</text>
<text transform="translate(175,866.8) rotate(-90) scale(1,1.02)">29</text>
<text transform="translate(175,1293.9) rotate(-90) scale(1,1.02)">28</text>
<text transform="translate(175,1721.0) rotate(-90) scale(1,1.02)">27</text>
<text transform="translate(175,2148.1) rotate(-90) scale(1,1.02)">26</text>
<text transform="translate(1935,2421.8) scale(1,1.02)">Date</text>
<text transform="translate(54,1220.2) rotate(-90) scale(1,1.02)">Average Maximum Temperature (°C)</text>
</g>
<g font-size="60" font-weight="bold" fill="#000" text-anchor="middle">
<text transform="translate(1935,109) scale(1,1.045)">Annual-Average Maximum Temperature in</text>
<text transform="translate(1935,181) scale(1,1.045)">La Rioja Aero., La Rioja, Argentina</text>
</g>
</svg>
</body></html>
